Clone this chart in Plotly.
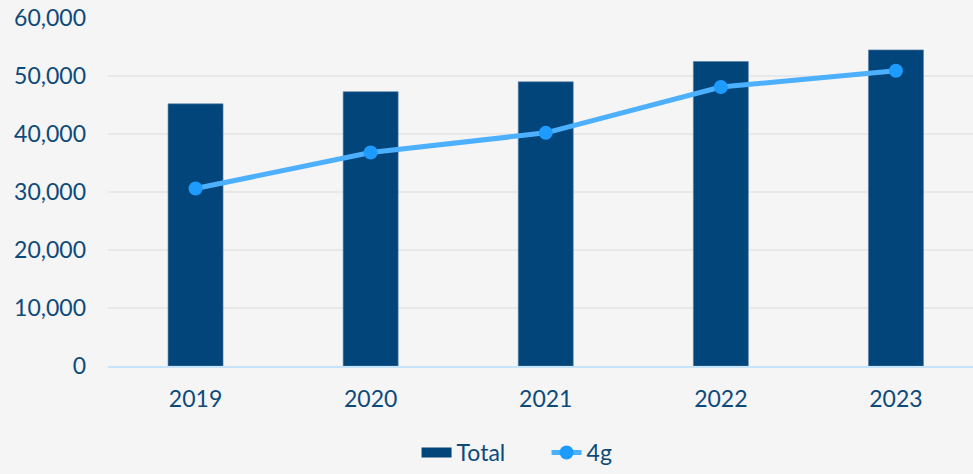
import plotly.graph_objects as go

years = ["2019", "2020", "2021", "2022", "2023"]
total = [45200, 47300, 49000, 52500, 54500]
g4 = [30600, 36800, 40200, 48100, 50900]

BAR_COLOR = "#02457A"
fig = go.Figure()
fig.add_trace(go.Bar(
    x=years, y=total, name="Total", showlegend=False,
    marker=dict(color=BAR_COLOR, line=dict(color="#5a7fa3", width=0.6)),
    width=0.314,
))
# legend-only entry giving the wide rectangle swatch for "Total"
fig.add_trace(go.Scatter(
    x=[None], y=[None], name="Total", mode="lines",
    line=dict(color=BAR_COLOR, width=14),
))
fig.add_trace(go.Scatter(
    x=years, y=g4, name="4g", mode="lines+markers",
    line=dict(color="#4DB0FF", width=5),
    marker=dict(color="#1E9BFF", size=14),
))

fig.update_layout(
    width=973, height=474,
    margin=dict(l=108, r=0, t=18, b=100),
    paper_bgcolor="#f5f5f5", plot_bgcolor="#f5f5f5",
    font=dict(family="Lato", size=23, color="#0d4a7a"),
    showlegend=True,
    legend=dict(orientation="h", x=0.507, xanchor="center", y=-0.25, yanchor="middle",
                font=dict(size=23, color="#0d4a7a"), itemwidth=30, tracegroupgap=0,
                entrywidth=85, entrywidthmode="pixels",
                bgcolor="rgba(0,0,0,0)"),
)
fig.update_xaxes(range=[-0.5, 4.44], showgrid=False, showline=True, automargin=False,
                 linecolor="#c6e4fb", linewidth=2, ticks="", ticklen=0,
                 ticklabelstandoff=11,
                 tickfont=dict(size=23, color="#0d4a7a"))
fig.update_yaxes(range=[0, 60000], dtick=10000, tickformat=",", automargin=False,
                 showgrid=True, gridcolor="#e8e8e8", gridwidth=2, zeroline=False,
                 showline=False, ticks="", ticklabelstandoff=21,
                 tickfont=dict(size=23, color="#0d4a7a"))

fig.write_html("out.html", config={"displayModeBar": False},
               post_script="document.body.style.margin='0';document.body.style.overflow='hidden';")
